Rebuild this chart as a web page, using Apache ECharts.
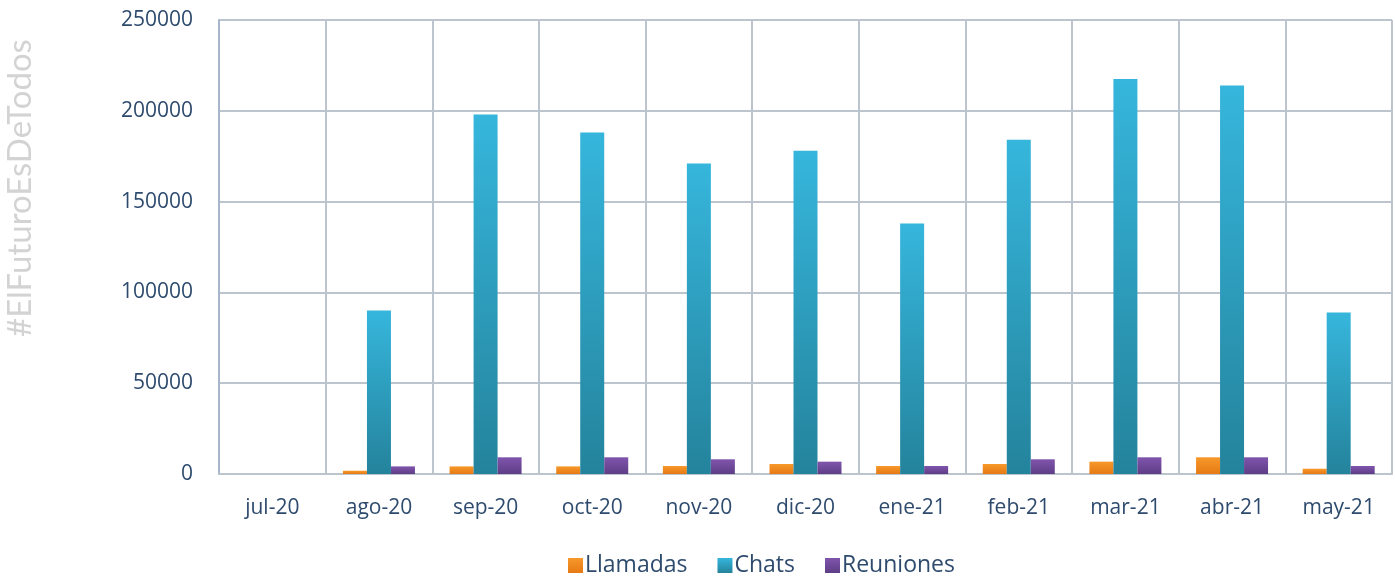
<!DOCTYPE html>
<html>
<head>
<meta charset="utf-8">
<script src="https://cdn.jsdelivr.net/npm/echarts@6/dist/echarts.min.js"></script>
<style>
  html, body { margin: 0; padding: 0; background: #fff; }
  #chart { width: 1395px; height: 582px; }
</style>
</head>
<body>
<div id="chart"></div>
<script>
// categories and values
const months = ['jul-20', 'ago-20', 'sep-20', 'oct-20', 'nov-20', 'dic-20', 'ene-21', 'feb-21', 'mar-21', 'abr-21', 'may-21'];
const llamadas = [0, 1800, 4200, 4200, 4400, 5500, 4400, 5500, 6800, 9200, 2900];
const chats = [0, 90000, 198000, 188000, 171000, 178000, 138000, 184000, 217500, 214000, 89000];
const reuniones = [0, 4200, 9200, 9200, 8100, 6800, 4400, 8100, 9200, 9200, 4400];
const yTicks = [0, 50000, 100000, 150000, 200000, 250000];

const labelColor = '#2e4b6e';
const gridColor = '#bcc4ce';

function grad(top, bottom) {
    return new echarts.graphic.LinearGradient(0, 0, 0, 1, [
        { offset: 0, color: top },
        { offset: 1, color: bottom }
    ]);
}

const chart = echarts.init(document.getElementById('chart'));

chart.setOption({
    animation: false,
    backgroundColor: '#fff',
    textStyle: { fontFamily: 'Open Sans' },
    graphic: [{
        type: 'text',
        rotation: Math.PI / 2,
        x: 4,
        y: 337,
        style: {
            text: '#ElFuturoEsDeTodos',
            fontFamily: 'Lato',
            fontSize: 33,
            fill: '#d3d3d3'
        }
    }],
    legend: {
        bottom: 0,
        left: 563,
        itemWidth: 15,
        itemHeight: 15,
        itemGap: 30,
        icon: 'rect',
        textStyle: { color: labelColor, fontSize: 23, fontFamily: 'Open Sans', padding: [0, 0, 0, -3] },
        data: ['Llamadas', 'Chats', 'Reuniones']
    },
    grid: { left: 219, right: 3, top: 20, bottom: 108 },
    xAxis: {
        type: 'category',
        data: months,
        axisLine: { lineStyle: { color: gridColor, width: 2 } },
        axisTick: { show: false },
        axisLabel: { color: labelColor, fontSize: 21, margin: 24 },
        splitLine: { show: true, lineStyle: { color: gridColor, width: 2 } }
    },
    yAxis: {
        type: 'value',
        min: yTicks[0],
        max: yTicks[yTicks.length - 1],
        interval: 50000,
        axisLine: { show: true, lineStyle: { color: '#a7b6cb', width: 2 } },
        axisTick: { show: false },
        axisLabel: { color: labelColor, fontSize: 21, margin: 26, formatter: v => String(v) },
        splitLine: { lineStyle: { color: gridColor, width: 2 } }
    },
    series: [
        {
            name: 'Llamadas',
            type: 'bar',
            data: llamadas,
            barWidth: 24,
            barGap: '0%',
            itemStyle: { color: grad('#f7982a', '#e67a14') }
        },
        {
            name: 'Chats',
            type: 'bar',
            data: chats,
            barWidth: 24,
            barGap: '0%',
            itemStyle: { color: grad('#36b6dc', '#24839c') }
        },
        {
            name: 'Reuniones',
            type: 'bar',
            data: reuniones,
            barWidth: 24,
            barGap: '0%',
            itemStyle: { color: grad('#8055ad', '#5e3d86') }
        }
    ]
});
</script>
</body>
</html>
